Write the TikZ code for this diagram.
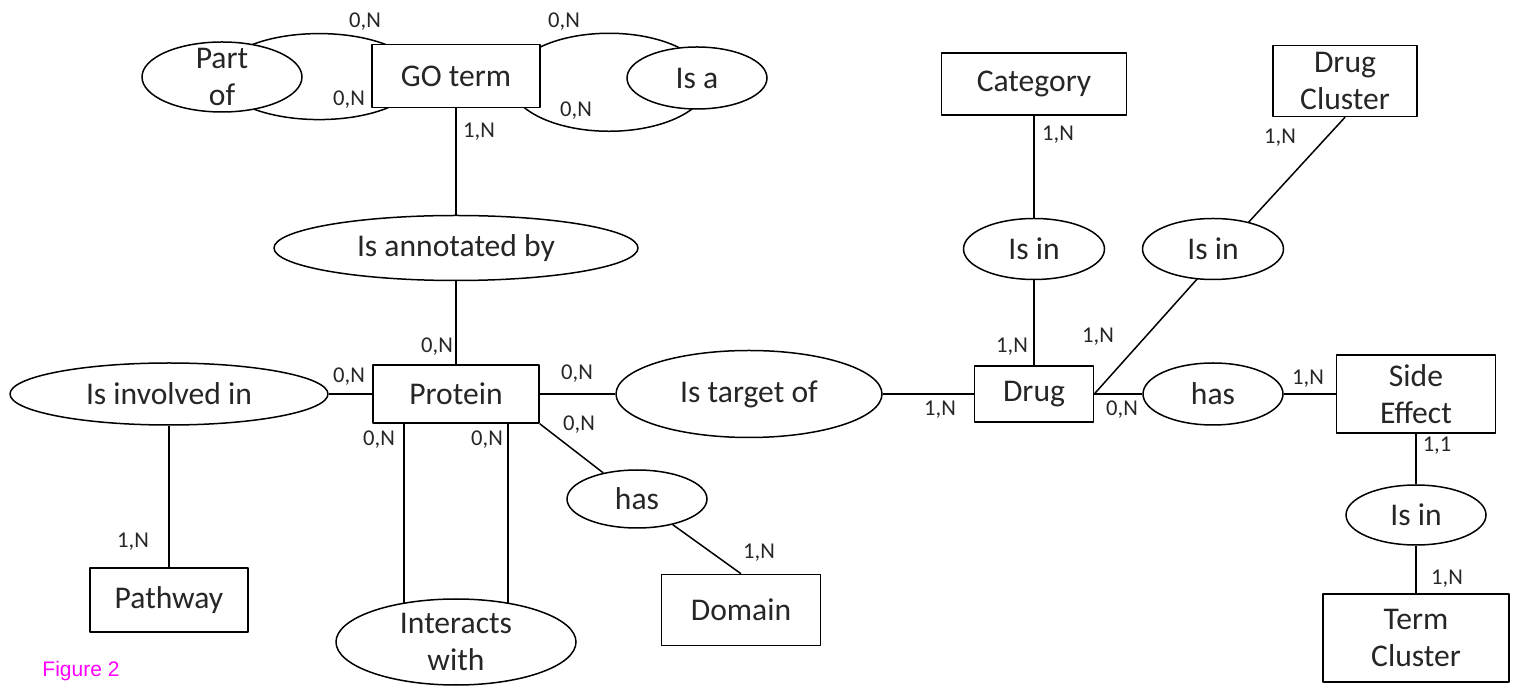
\documentclass[tikz,border=0pt]{standalone}
\usepackage{fontspec}
\setmainfont{Carlito}
\newfontfamily\figfont{Liberation Sans}
\usetikzlibrary{shapes.geometric,calc,backgrounds}
\definecolor{ink}{HTML}{262626}
\definecolor{figpink}{HTML}{FF00FF}
\tikzset{
  every picture/.style={line join=round, line cap=round},
  entity/.style={draw, rectangle, fill=white, line width=0.75pt, inner sep=0pt, align=center, text=ink, font=\fontsize{15.8}{18.5}\selectfont},
  relation/.style={draw, ellipse, fill=white, line width=0.75pt, inner sep=0pt, align=center, text=ink, font=\fontsize{15.8}{18.5}\selectfont},
  card/.style={text=ink, inner sep=0pt, font=\fontsize{11.3}{13}\selectfont},
  link/.style={line width=0.75pt},
}

\begin{document}
\begin{tikzpicture}[x=0.5pt,y=-0.5pt]
\useasboundingbox (0,0) rectangle (1519,688);
\node[entity, minimum width=84pt, minimum height=31.5pt] (go) at (456,76) {GO term};
\node[relation, minimum width=80pt, minimum height=35pt, inner ysep=-6pt] (partof) at (222,77) {Part\\of};
\node[relation, minimum width=70pt, minimum height=31pt] (isa) at (697,78) {Is a};
\node[relation, minimum width=182pt, minimum height=32.5pt] (annot) at (456,248) {Is annotated by};
\node[entity, minimum width=83pt, minimum height=29pt] (protein) at (456,394) {Protein};
\node[relation, minimum width=159pt, minimum height=31pt] (involved) at (169,394) {Is involved in};
\node[entity, minimum width=79pt, minimum height=32pt] (pathway) at (169,600) {Pathway};
\node[relation, minimum width=120pt, minimum height=43pt, inner ysep=-6pt] (interacts) at (456,642) {Interacts\\with};
\node[relation, minimum width=70pt, minimum height=29pt] (hasdom) at (637,499) {has};
\node[entity, minimum width=79.5pt, minimum height=35.5pt] (domain) at (741,610) {Domain};
\node[relation, minimum width=133pt, minimum height=43.5pt] (target) at (749,394) {Is target of};
\node[entity, minimum width=59.5pt, minimum height=28pt] (drug) at (1034,394) {Drug};
\node[relation, minimum width=70.5pt, minimum height=30.5pt] (isincat) at (1034,249) {Is in};
\node[entity, minimum width=92.5pt, minimum height=31pt] (category) at (1034,84) {Category};
\node[relation, minimum width=70.5pt, minimum height=30.5pt] (isinclu) at (1213,249) {Is in};
\node[entity, minimum width=72pt, minimum height=35.5pt] (dcluster) at (1345,81) {Drug\\Cluster};
\node[relation, minimum width=70pt, minimum height=31pt] (hasse) at (1213,394) {has};
\node[entity, minimum width=79.5pt, minimum height=39pt] (sideeff) at (1416,394) {Side\\Effect};
\node[relation, minimum width=70pt, minimum height=30pt] (isinterm) at (1416,515) {Is in};
\node[entity, minimum width=93pt, minimum height=44pt] (tcluster) at (1416,638) {Term\\Cluster};

\node[card] (cgoPartTop) at (365,22) {0,N};
\node[card] (cgoPartBot) at (349,100) {0,N};
\node[card] (cgoIsaTop) at (564,22) {0,N};
\node[card] (cgoIsaBot) at (576,111) {0,N};
\node[card] (cgoAnnot) at (479,132) {1,N};
\node[card] (cprotAnnot) at (437,347) {0,N};
\node[card] (cprotInv) at (349,377) {0,N};
\node[card] (cpathway) at (133,542) {1,N};
\node[card] (cprotInt1) at (379,440) {0,N};
\node[card] (cprotInt2) at (487,440) {0,N};
\node[card] (cprotTgt) at (577,374) {0,N};
\node[card] (cprotHas) at (579,425) {0,N};
\node[card] (cdomain) at (759,553) {1,N};
\node[card] (cdrugTgt) at (940,410) {1,N};
\node[card] (cdrugCat) at (1012,347) {1,N};
\node[card] (ccategory) at (1058,135) {1,N};
\node[card] (cdrugClu) at (1098,337) {1,N};
\node[card] (cdcluster) at (1280,138) {1,N};
\node[card] (cdrugSe) at (1122,410) {0,N};
\node[card] (csideeff) at (1308,379) {1,N};
\node[card] (cseTerm) at (1437,446) {1,1};
\node[card] (ctcluster) at (1447,579) {1,N};

\node[text=figpink, inner sep=0pt, font=\figfont\fontsize{10.5}{12}\selectfont] (figlabel) at (81,671) {Figure 2};

\begin{scope}[on background layer]
\fill[white] (0,0) rectangle (1519,688);
\draw[link] ($(partof)!0.415!(go)$) ellipse [x radius=50pt, y radius=21.5pt];
\draw[link] ([yshift=-2.5pt]$(go)!0.635!(isa)$) ellipse [x radius=49.5pt, y radius=24.5pt];
\draw[link] (go) -- (annot);
\draw[link] (annot) -- (protein);
\draw[link] (involved) -- (protein);
\draw[link] (involved) -- (pathway);
\draw[link] ([xshift=-26pt]protein.center) -- ([xshift=-26pt]interacts.center);
\draw[link] ([xshift=26pt]protein.center) -- ([xshift=26pt]interacts.center);
\draw[link] (protein.south east) -- (hasdom);
\draw[link] (hasdom) -- (domain.north);
\draw[link] (protein) -- (target);
\draw[link] (target) -- (drug);
\draw[link] (drug) -- (isincat);
\draw[link] (isincat) -- (category);
\draw[link] (drug.east) -- ([xshift=5.5pt]isinclu.center);
\draw[link] ([xshift=5.5pt]isinclu.center) -- (dcluster.south);
\draw[link] (drug) -- (hasse);
\draw[link] (hasse) -- (sideeff);
\draw[link] (sideeff) -- (isinterm);
\draw[link] (isinterm) -- (tcluster);
\end{scope}
\end{tikzpicture}
\end{document}
